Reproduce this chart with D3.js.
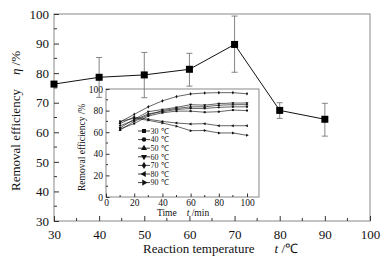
<!DOCTYPE html>
<html><head><meta charset="utf-8">
<script src="https://cdn.jsdelivr.net/npm/d3@7"></script>
<style>body{margin:0;background:#fff}svg{display:block}text{font-family:"Liberation Serif","Times New Roman",serif;fill:#111}</style>
</head><body><svg id="c" width="384" height="259"></svg>
<script>
// main chart data
const temps = [30, 40, 50, 60, 70, 80, 90];
const effMean = [76.3, 78.6, 79.4, 81.3, 89.7, 67.4, 64.4];
const effLow = [76.3, 71.8, 71.7, 75.6, 80.3, 64.7, 58.7];
const effHigh = [76.3, 85.3, 87.0, 86.7, 99.3, 70.0, 69.8];
const mainXTicks = [30, 40, 50, 60, 70, 80, 90, 100];
const mainYTicks = [30, 40, 50, 60, 70, 80, 90, 100];
// inset data
const times = [10, 20, 30, 40, 50, 60, 70, 80, 90, 100];
const s30 = [63, 68, 75, 78, 79.5, 79.5, 78.5, 79, 80.5, 80];
const s40 = [66, 71, 77, 79, 81, 82, 82, 83, 83.5, 83.5];
const s50 = [62, 70, 76, 80, 82, 83.5, 83.5, 85, 85.5, 85.5];
const s60 = [64, 72, 79, 81, 83, 85.5, 85, 86.5, 87, 87];
const s70 = [69.5, 76.5, 83.5, 89, 93, 95.4, 96.3, 96.6, 96.6, 95.6];
const s80 = [68, 74, 72, 70, 68.5, 67.6, 67.9, 66, 66, 66];
const s90 = [70, 73, 71, 68.5, 65.5, 61.4, 61.6, 59.3, 59.3, 57.1];
const seriesNames = ["30 ℃", "40 ℃", "50 ℃", "60 ℃", "70 ℃", "80 ℃", "90 ℃"];
const insetTicks = [0, 20, 40, 60, 80, 100];

const series = [s30, s40, s50, s60, s70, s80, s90];
const symbols = [d3.symbolSquare, d3.symbolCircle, d3.symbolTriangle, d3.symbolTriangle, d3.symbolDiamond, d3.symbolTriangle, d3.symbolTriangle];
const rotations = [0, 0, 0, 180, 0, -90, 90];

const FONT = "'Liberation Serif', 'Times New Roman', serif";
const svg = d3.select("#c");
const frameCol = "#888";

// main scales
const x = d3.scaleLinear().domain([30, 100]).range([54, 370]);
const y = d3.scaleLinear().domain([30, 100]).range([221, 14]);

svg.append("rect").attr("x", x(30)).attr("y", y(100)).attr("width", x(100) - x(30)).attr("height", y(30) - y(100))
  .attr("fill", "none").attr("stroke", frameCol).attr("stroke-width", 1);

const xMinor = d3.range(35, 100, 10);
const yMinor = d3.range(35, 100, 10);
const gx = svg.append("g").attr("transform", `translate(0,${y(30)})`);
gx.call(d3.axisBottom(x).tickValues(mainXTicks).tickSize(-5).tickPadding(9).tickFormat(d3.format("d")));
gx.call(g => g.select(".domain").remove());
gx.attr("font-family", FONT);
gx.selectAll("line").attr("stroke", "#333");
gx.selectAll("text").style("font-size", "13px").attr("dy", "0.75em").attr("y", 8);
gx.selectAll(".minor").data(xMinor).enter().append("line").attr("x1", d => x(d)).attr("x2", d => x(d)).attr("y1", 0).attr("y2", -3).attr("stroke", "#333");

const gy = svg.append("g").attr("transform", `translate(${x(30)},0)`);
gy.call(d3.axisLeft(y).tickValues(mainYTicks).tickSize(-5).tickPadding(5).tickFormat(d3.format("d")));
gy.call(g => g.select(".domain").remove());
gy.attr("font-family", FONT);
gy.selectAll("line").attr("stroke", "#333");
gy.selectAll("text").style("font-size", "13px");
gy.selectAll(".minor").data(yMinor).enter().append("line").attr("y1", d => y(d)).attr("y2", d => y(d)).attr("x1", 0).attr("x2", 3).attr("stroke", "#333");

svg.append("text").attr("x", 143).attr("y", 253).style("font-size", "13px")
  .html('Reaction temperature<tspan dx="20" font-style="italic">t</tspan><tspan> /℃</tspan>');
svg.append("text").attr("transform", "translate(20,191) rotate(-90)").style("font-size", "13px")
  .html('Removal efficiency<tspan dx="14" font-style="italic">η</tspan><tspan> /%</tspan>');

// inset scales
const xi = d3.scaleLinear().domain([0, 100]).range([106, 247]);
const yi = d3.scaleLinear().domain([0, 100]).range([197, 89]);

svg.append("rect").attr("x", xi(0)).attr("y", yi(100)).attr("width", xi(108.5) - xi(0)).attr("height", yi(0) - yi(100))
  .attr("fill", "none").attr("stroke", frameCol).attr("stroke-width", 1);

const gxi = svg.append("g").attr("transform", `translate(0,${yi(0)})`);
gxi.call(d3.axisBottom(xi).tickValues(insetTicks).tickSize(-3.5).tickPadding(2).tickFormat(d3.format("d")));
gxi.call(g => g.select(".domain").remove());
gxi.attr("font-family", FONT);
gxi.selectAll("line").attr("stroke", "#333");
gxi.selectAll("text").style("font-size", "9.5px").attr("y", 2).attr("dy", "0.75em");
gxi.selectAll(".minor").data(d3.range(10, 101, 20)).enter().append("line").attr("x1", d => xi(d)).attr("x2", d => xi(d)).attr("y1", 0).attr("y2", -2).attr("stroke", "#333");

const gyi = svg.append("g").attr("transform", `translate(${xi(0)},0)`);
gyi.call(d3.axisLeft(yi).tickValues(insetTicks).tickSize(-3.5).tickPadding(3).tickFormat(d3.format("d")));
gyi.call(g => g.select(".domain").remove());
gyi.attr("font-family", FONT);
gyi.selectAll("line").attr("stroke", "#333");
gyi.selectAll("text").style("font-size", "9.5px");
gyi.selectAll(".minor").data(d3.range(10, 101, 20)).enter().append("line").attr("y1", d => yi(d)).attr("y2", d => yi(d)).attr("x1", 0).attr("x2", 2).attr("stroke", "#333");

svg.append("text").attr("x", 157).attr("y", 216).style("font-size", "9.5px")
  .html('Time<tspan dx="10" font-style="italic">t</tspan><tspan> /min</tspan>');
svg.append("text").attr("transform", "translate(85,191) rotate(-90)").style("font-size", "9.5px")
  .text('Removal efficiency /%');

// inset lines
const lineI = d3.line().x((d, i) => xi(times[i])).y(d => yi(d));
series.forEach((s, k) => {
  svg.append("path").attr("d", lineI(s)).attr("fill", "none").attr("stroke", "#222").attr("stroke-width", 0.7);
  svg.selectAll(null).data(s).enter().append("path")
    .attr("d", d3.symbol().type(symbols[k]).size(4))
    .attr("transform", (d, i) => `translate(${xi(times[i])},${yi(d)}) rotate(${rotations[k]})`)
    .attr("fill", "#111");
});

// legend
const lg = svg.append("g");
seriesNames.forEach((n, k) => {
  const ly = 131 + k * 8.6;
  lg.append("line").attr("x1", 138).attr("x2", 150).attr("y1", ly).attr("y2", ly).attr("stroke", "#111").attr("stroke-width", 0.8);
  lg.append("path").attr("d", d3.symbol().type(symbols[k]).size(16)).attr("transform", `translate(144,${ly}) rotate(${rotations[k]})`).attr("fill", "#111");
  lg.append("text").attr("x", 150.5).attr("y", ly + 2.8).style("font-size", "8px").text(n);
});

// main error bars
temps.forEach((t, i) => {
  if (effHigh[i] - effLow[i] < 0.5) return;
  const g = svg.append("g").attr("stroke", "#777").attr("stroke-width", 0.9);
  g.append("line").attr("x1", x(t)).attr("x2", x(t)).attr("y1", y(effLow[i])).attr("y2", y(effHigh[i]));
  g.append("line").attr("x1", x(t) - 3).attr("x2", x(t) + 3).attr("y1", y(effLow[i])).attr("y2", y(effLow[i]));
  g.append("line").attr("x1", x(t) - 3).attr("x2", x(t) + 3).attr("y1", y(effHigh[i])).attr("y2", y(effHigh[i]));
});

// main line
const lineM = d3.line().x((d, i) => x(temps[i])).y(d => y(d));
svg.append("path").attr("d", lineM(effMean)).attr("fill", "none").attr("stroke", "#111").attr("stroke-width", 1);
svg.selectAll(null).data(effMean).enter().append("rect")
  .attr("x", (d, i) => x(temps[i]) - 3.5).attr("y", d => y(d) - 3.5).attr("width", 7).attr("height", 7).attr("fill", "#000");

svg.selectAll("text").attr("font-family", FONT);
</script></body></html>
